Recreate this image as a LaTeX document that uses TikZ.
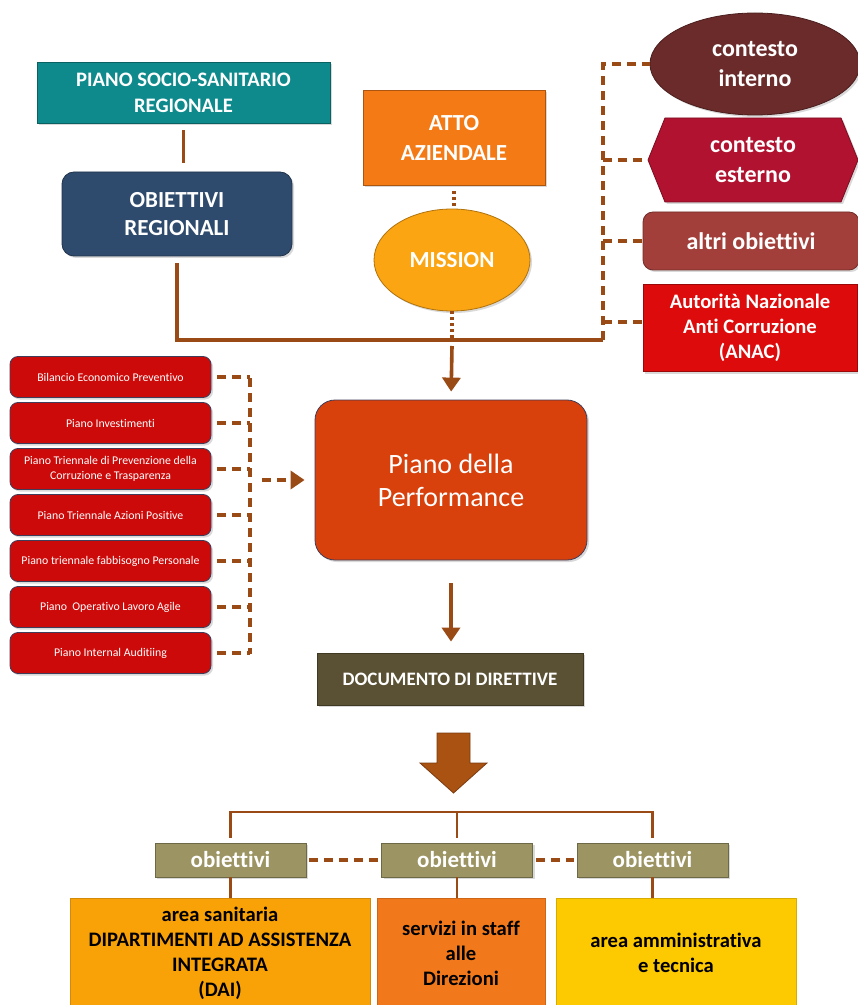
\documentclass[tikz,border=0pt]{standalone}
\usepackage{fontspec}
\setmainfont[Ligatures=NoCommon]{Carlito}
\usepackage{tikz}
\usetikzlibrary{shapes.geometric, shapes.symbols, arrows.meta, positioning, calc, shadows}

\definecolor{teal1}{HTML}{0F8A8C}
\definecolor{navy1}{HTML}{2E4A6C}
\definecolor{orange1}{HTML}{F47A16}
\definecolor{amber1}{HTML}{FBA512}
\definecolor{maroon1}{HTML}{6B2B2B}
\definecolor{crimson1}{HTML}{B0122F}
\definecolor{brick1}{HTML}{A23F3A}
\definecolor{red1}{HTML}{DD0B0B}
\definecolor{red2}{HTML}{CC0A0A}
\definecolor{perf1}{HTML}{D8400C}
\definecolor{olive1}{HTML}{5A5134}
\definecolor{khaki1}{HTML}{9C9462}
\definecolor{gold1}{HTML}{F9A208}
\definecolor{tang1}{HTML}{F1791B}
\definecolor{yellow1}{HTML}{FDC900}
\definecolor{linebrown}{HTML}{9A4A14}
\definecolor{darkedge}{HTML}{3F3D5A}

\tikzset{
  sq/.style={draw=#1!70!black, fill=#1, text=white, align=center, inner sep=1pt,
    drop shadow={opacity=0.3, shadow xshift=1pt, shadow yshift=-1pt}},
  lbox/.style={sq=red2, draw=darkedge, rounded corners=4pt, minimum width=100.5pt,
    minimum height=20.5pt, font=\fontsize{5.9}{7.5}\selectfont},
  obox/.style={sq=khaki1, minimum width=75.5pt, minimum height=17pt,
    font=\bfseries\fontsize{11.5}{13}\selectfont},
  area/.style={draw=#1!85!black, fill=#1, text=black, align=center, inner sep=0pt,
    minimum height=55pt, font=\bfseries\fontsize{10.3}{12.5}\selectfont},
  conn/.style={draw=linebrown, line width=1.8pt},
  thinconn/.style={draw=linebrown, line width=1.4pt},
  dconn/.style={conn, dash pattern=on 4.5pt off 3pt},
  dotconn/.style={draw=linebrown, line width=1.8pt, dash pattern=on 1.5pt off 1.5pt},
  tip/.style={-{Triangle[length=7pt,width=9pt]}}
}

\begin{document}
\begin{tikzpicture}[x=0.5pt, y=-0.5pt]
  \useasboundingbox (0,0) rectangle (857,1005);

  % Upper sources
  \node[sq=teal1, minimum width=146.5pt, minimum height=30.5pt,
    font=\bfseries\fontsize{10.3}{13}\selectfont] (psr) at (183.5,92.5) {PIANO SOCIO-SANITARIO\\REGIONALE};
  \node[sq=navy1, rounded corners=6pt, minimum width=115pt, minimum height=42pt,
    font=\bfseries\fontsize{11.5}{14}\selectfont] (obreg) at (177,214) {OBIETTIVI\\REGIONALI};
  \node[sq=orange1, minimum width=91pt, minimum height=47.5pt,
    font=\bfseries\fontsize{11.5}{15}\selectfont] (atto) at (454,137.5) {ATTO\\AZIENDALE};
  \node[sq=amber1, ellipse, minimum width=78pt, minimum height=51pt,
    font=\bfseries\fontsize{11.5}{14}\selectfont] (mission) at (452,260) {MISSION};

  % Right column
  \node[sq=maroon1, ellipse, minimum width=105pt, minimum height=51pt,
    font=\bfseries\fontsize{12}{15}\selectfont] (ctxint) at (755,64) {contesto\\interno};
  \node[sq=crimson1, signal, signal to=east and west, signal pointer angle=136,
    minimum width=105pt, minimum height=42pt,
    font=\bfseries\fontsize{12}{15}\selectfont] (ctxest) at (753,160) {contesto\\esterno};
  \node[sq=brick1, rounded corners=5pt, minimum width=108pt, minimum height=29pt,
    font=\bfseries\fontsize{12}{15}\selectfont] (altri) at (751,241) {altri obiettivi};
  \node[sq=red1, minimum width=107pt, minimum height=43.5pt,
    font=\bfseries\fontsize{10.3}{12.5}\selectfont] (anac) at (750,328) {Autorità Nazionale\\Anti Corruzione\\(ANAC)};

  % Left list of plans
  \foreach \txt [count=\i] in {Bilancio Economico Preventivo, Piano Investimenti,
      {Piano Triennale di Prevenzione della\\Corruzione e Trasparenza},
      Piano Triennale Azioni Positive, Piano triennale fabbisogno Personale,
      Piano\ \ Operativo Lavoro Agile, Piano Internal Auditiing}
    \node[lbox] (lb\i) at (110.5,{377+46*(\i-1)}) {\txt};

  % Central chain
  \node[sq=perf1, draw=darkedge, rounded corners=10pt, minimum width=136pt, minimum height=80pt,
    font=\fontsize{14}{16.5}\selectfont] (perf) at (451,480) {Piano della\\Performance};
  \node[sq=olive1, minimum width=133pt, minimum height=26pt,
    font=\bfseries\fontsize{9.5}{12}\selectfont] (doc) at (450,679) {DOCUMENTO DI DIRETTIVE};

  % Objectives row
  \node[obox] (ob1) at (230.5,860) {obiettivi};
  \node[obox] (ob2) at (457,860) {obiettivi};
  \node[obox] (ob3) at (652.5,860) {obiettivi};

  % Bottom areas
  \node[area=gold1, minimum width=150pt] (asan) at (220,953) {area sanitaria\\DIPARTIMENTI AD ASSISTENZA\\INTEGRATA\\(DAI)};
  \node[area=tang1, minimum width=84pt] (staff) at (461,953) {servizi in staff\\alle\\Direzioni};
  \node[area=yellow1, minimum width=120pt] (amm) at (676,953) {area amministrativa\\e tecnica};

  % Junctions
  \coordinate (junc) at (452,340);
  \coordinate (rjunc) at (603,340);
  \coordinate (brtop) at (250,378);
  \coordinate (brbot) at (250,654);
  \coordinate (brmid) at (250,480);
  \coordinate (tbar) at (457,812);

  % Upper connectors
  \draw[conn, shorten <=3.5pt, shorten >=4.5pt] (psr.south) -- (psr.south |- obreg.north);
  \draw[dotconn, shorten <=3pt] (atto.south) -- (atto.south |- mission.north);
  \draw[dotconn] (mission.south) -- (junc);
  \draw[conn, shorten <=3.5pt] (obreg.south) |- (rjunc);
  \draw[conn, tip, shorten >=4pt] ([yshift=-3pt]junc) -- (perf.north);

  % Right dashed bracket
  \draw[dconn] (rjunc) |- (ctxint.west);
  \draw[dconn] (rjunc |- ctxest.west) -- (ctxest.west);
  \draw[dconn] (rjunc |- altri.west) -- (altri.west);
  \draw[dconn] ([yshift=3pt]rjunc |- anac.west) -- ([yshift=3pt]anac.west);

  % Left dashed bracket
  \draw[dconn] (brtop) -- (brbot);
  \foreach \i in {1,...,7}
    \draw[dconn] ([xshift=3pt]lb\i.east) -- (lb\i.east -| brtop);
  \draw[dconn, tip, shorten <=6pt, shorten >=5pt] (brmid) -- (perf.west);

  % Down to the directives
  \draw[conn, tip, shorten <=11.5pt, shorten >=5.5pt] (perf.south) -- (perf.south |- doc.north);

  % Big arrow
  \filldraw[fill=linebrown!85!orange, draw=linebrown!80!black, line width=0.4pt]
    (437,733) -- (470,733) -- (470,763) -- (487,763) -- (453.5,793) -- (420,763) -- (437,763) -- cycle;

  % Objectives bracket
  \draw[thinconn, shorten <=2.5pt] (ob1.north) |- (tbar) -| ([yshift=2.5pt]ob3.north);
  \draw[thinconn, shorten >=2.5pt] (tbar) -- (ob2.north);
  \draw[dconn, shorten <=1.5pt, shorten >=1.5pt] (ob1.east) -- (ob2.west);
  \draw[dconn, shorten <=1.5pt, shorten >=1.5pt] (ob2.east) -- (ob3.west);
  \draw[thinconn] (ob1.south) -- (ob1.south |- asan.north);
  \draw[thinconn] (ob2.south) -- (ob2.south |- staff.north);
  \draw[thinconn] (ob3.south) -- (ob3.south |- amm.north);
\end{tikzpicture}
\end{document}
